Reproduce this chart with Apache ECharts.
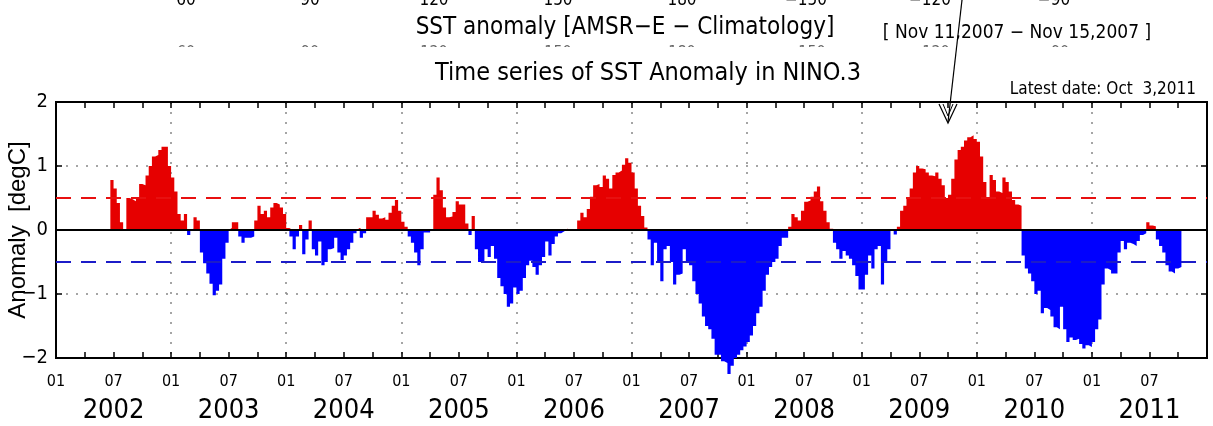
<!DOCTYPE html>
<html><head><meta charset="utf-8">
<script src="https://cdn.jsdelivr.net/npm/echarts@6/dist/echarts.min.js"></script>
<style>html,body{margin:0;padding:0;background:#fff}#c{width:1213px;height:426px}</style>
</head><body><div id="c"></div>
<script>
// ---- data (10-day / dekad values, 36 per year, null = no data) ----
const years = [2002, 2003, 2004, 2005, 2006, 2007, 2008, 2009, 2010, 2011];
const a2002 = [null,null,null,null,null,null,null,null,null,null,null,null,null,null,null,null,null,
  0.78, 0.65, 0.42, 0.12, 0, 0.5, 0.48, 0.45, 0.5, 0.72, 0.7, 0.85, 1.0, 1.15, 1.17, 1.25, 1.3, 1.3, 1.0];
const a2003 = [0.82, 0.6, 0.25, 0.15, 0.25, -0.08, 0.02, 0.2, 0.15, -0.35, -0.52, -0.68, -0.84, -1.02, -0.95, -0.85, -0.45, -0.2,
  0.03, 0.12, 0.12, -0.1, -0.2, -0.12, -0.12, -0.1, 0.15, 0.38, 0.25, 0.3, 0.2, 0.35, 0.42, 0.4, 0.35, 0.25];
const a2004 = [0.03, -0.1, -0.3, -0.1, 0.08, -0.38, -0.15, 0.15, -0.3, -0.4, -0.18, -0.55, -0.5, -0.3, -0.28, -0.12, -0.35, -0.47,
  -0.4, -0.3, -0.2, -0.05, 0.03, -0.12, -0.05, 0.2, 0.2, 0.3, 0.24, 0.18, 0.2, 0.16, 0.27, 0.38, 0.47, 0.3];
const a2005 = [0.13, 0.05, -0.1, -0.2, -0.35, -0.55, -0.3, -0.04, -0.04, 0.0, 0.55, 0.82, 0.62, 0.35, 0.2, 0.21, 0.28, 0.45,
  0.4, 0.4, 0.1, -0.08, 0.22, -0.3, -0.5, -0.48, -0.3, -0.42, -0.25, -0.45, -0.75, -0.88, -1.0, -1.2, -1.15, -0.9];
const a2006 = [-1.0, -0.95, -0.75, -0.55, -0.48, -0.58, -0.7, -0.55, -0.42, -0.18, -0.4, -0.22, -0.1, -0.05, -0.02, 0.02, 0, 0,
  0, 0.15, 0.27, 0.2, 0.33, 0.52, 0.7, 0.72, 0.67, 0.85, 0.8, 0.65, 0.86, 0.9, 0.93, 1.02, 1.12, 1.05];
const a2007 = [0.9, 0.65, 0.38, 0.22, 0.04, -0.15, -0.55, -0.2, -0.5, -0.8, -0.3, -0.25, -0.5, -0.85, -0.7, -0.68, -0.3, -0.5,
  -0.55, -0.8, -1.0, -1.15, -1.35, -1.5, -1.55, -1.7, -1.95, -1.95, -2.05, -2.08, -2.25, -2.12, -2.0, -1.95, -1.88, -1.82];
const a2008 = [-1.75, -1.65, -1.5, -1.3, -1.2, -0.95, -0.7, -0.58, -0.5, -0.45, -0.25, -0.12, -0.12, 0.05, 0.25, 0.2, 0.15, 0.3,
  0.44, 0.46, 0.52, 0.6, 0.68, 0.45, 0.3, 0.12, 0.02, -0.2, -0.3, -0.45, -0.33, -0.4, -0.45, -0.55, -0.72, -0.93];
const a2009 = [-0.93, -0.7, -0.4, -0.6, -0.3, -0.25, -0.85, -0.5, -0.3, 0.0, -0.07, 0.05, 0.3, 0.38, 0.5, 0.65, 0.9, 1.0,
  0.96, 0.95, 0.9, 0.85, 0.84, 0.9, 0.8, 0.7, 0.5, 0.55, 0.8, 1.1, 1.25, 1.3, 1.4, 1.45, 1.48, 1.42];
const a2010 = [1.38, 1.15, 0.75, 0.5, 0.86, 0.78, 0.6, 0.58, 0.82, 0.75, 0.6, 0.47, 0.4, 0.38, -0.4, -0.6, -0.68, -0.8,
  -1.0, -0.95, -1.3, -1.22, -1.25, -1.35, -1.52, -1.55, -1.2, -1.55, -1.75, -1.68, -1.72, -1.7, -1.78, -1.85, -1.8, -1.83];
const a2011 = [-1.75, -1.55, -1.4, -0.85, -0.6, -0.63, -0.68, -0.68, -0.35, -0.17, -0.3, -0.2, -0.22, -0.25, -0.17, -0.08, -0.05, 0.12,
  0.07, 0.06, -0.15, -0.25, -0.35, -0.55, -0.65, -0.68, -0.6, -0.58, null, null, null, null, null, null, null, null];
const yearValues = [a2002, a2003, a2004, a2005, a2006, a2007, a2008, a2009, a2010, a2011];

const monthLabels = ['01', '07'];
const yearLabels = ['2002', '2003', '2004', '2005', '2006', '2007', '2008', '2009', '2010', '2011'];
const yTickValues = [-2, -1, 0, 1, 2];
const lonLabels = ['60', '90', '120', '150', '180', '\u2212150', '\u2212120', '\u221290'];
const titleText = 'Time series of SST Anomaly in NINO.3';
const subText = 'SST anomaly [AMSR\u2212E \u2212 Climatology]';
const periodText = '[ Nov 11,2007 \u2212 Nov 15,2007 ]';
const latestText = 'Latest date: Oct  3,2011';
const yName = 'Anomaly  [degC]';

// ---- build series ----
const pos = [], neg = [];
let lastT = null, lastV = null;
years.forEach((y, yi) => {
  yearValues[yi].forEach((v, k) => {
    if (v === null) return;
    const t = y + k / 36;
    pos.push([t, v > 0 ? v : 0]);
    neg.push([t, v < 0 ? v : 0]);
    lastT = t; lastV = v;
  });
});
pos.push([lastT + 1 / 36, lastV > 0 ? lastV : 0]);
neg.push([lastT + 1 / 36, lastV < 0 ? lastV : 0]);

const quarterTicks = [];
const halfLabels = [];
const yearMid = [];
for (let i = 0; i <= years.length; i++) {
  const y = years[0] + i;
  quarterTicks.push(y);
  if (i < years.length) {
    quarterTicks.push(y + 0.25, y + 0.5, y + 0.75);
    halfLabels.push(y, y + 0.5);
    yearMid.push(y + 0.5);
  }
}

const NARROW = "'Liberation Sans Narrow','DejaVu Sans Condensed','Liberation Sans',sans-serif";
const X0 = years[0], X1 = years[0] + years.length;

const chart = echarts.init(document.getElementById('c'), null, {renderer: 'canvas'});
chart.setOption({
  animation: false,
  backgroundColor: '#fff',
  grid: {left: 56, right: 6, top: 102, bottom: 68, show: true, borderColor: '#000', borderWidth: 2,
    backgroundColor: 'transparent', containLabel: false, outerBoundsMode: 'none'},
  xAxis: [
    {type: 'value', position: 'bottom', min: X0, max: X1,
      axisLine: {show: true, onZero: false, lineStyle: {color: '#000', width: 2}},
      axisTick: {show: true, inside: true, length: 6, customValues: quarterTicks, lineStyle: {color: '#000', width: 1.5}},
      axisLabel: {show: true, customValues: halfLabels, margin: 16, color: '#000', fontFamily: NARROW, fontSize: 16,
        formatter: v => (Math.abs(v - Math.round(v)) < 1e-6 ? monthLabels[0] : monthLabels[1])},
      splitLine: {show: false}},
    {type: 'value', position: 'bottom', min: X0, max: X1,
      axisLine: {show: false, onZero: false}, axisTick: {show: false}, splitLine: {show: false},
      axisLabel: {show: true, customValues: yearMid, margin: 39, color: '#000', fontFamily: NARROW, fontSize: 27,
        formatter: v => yearLabels[Math.floor(v) - years[0]]}},
    {type: 'value', position: 'top', min: X0, max: X1,
      axisLine: {show: true, onZero: false, lineStyle: {color: '#000', width: 2}},
      axisTick: {show: true, inside: true, length: 6, customValues: quarterTicks, lineStyle: {color: '#000', width: 1.5}},
      axisLabel: {show: false}, splitLine: {show: false}},
    {type: 'value', position: 'bottom', min: X0, max: X1, interval: 1,
      axisLine: {show: false, onZero: false}, axisTick: {show: false}, axisLabel: {show: false},
      splitLine: {show: true, lineStyle: {color: '#888', width: 1.5, type: [2, 8]}}}
  ],
  yAxis: [
    {type: 'value', position: 'left', min: -2, max: 2, interval: 1,
      name: yName, nameLocation: 'middle', nameGap: 38, nameRotate: 90, nameMoveOverlap: false,
      nameTextStyle: {color: '#000', fontSize: 24, fontFamily: "'Liberation Sans','Noto Sans',sans-serif", verticalAlign: 'middle'},
      axisLine: {show: true, onZero: false, lineStyle: {color: '#000', width: 2}},
      axisTick: {show: true, inside: true, length: 6, customValues: yTickValues, lineStyle: {color: '#000', width: 1.5}},
      axisLabel: {show: true, customValues: yTickValues, margin: 8, color: '#000', fontFamily: NARROW, fontSize: 20,
        formatter: v => String(v).replace('-', '\u2212')},
      splitLine: {show: true, lineStyle: {color: '#888', width: 1.5, type: [2, 8]}}},
    {type: 'value', position: 'right', min: -2, max: 2, interval: 1,
      axisLine: {show: true, onZero: false, lineStyle: {color: '#000', width: 2}},
      axisTick: {show: true, inside: true, length: 6, customValues: yTickValues, lineStyle: {color: '#000', width: 1.5}},
      axisLabel: {show: false}, splitLine: {show: false}}
  ],
  series: [
    {type: 'line', name: 'positive', data: pos, step: 'end', symbol: 'none', showSymbol: false,
      lineStyle: {width: 0, opacity: 0}, areaStyle: {color: '#e60000', opacity: 1, origin: 0}, z: 2},
    {type: 'line', name: 'negative', data: neg, step: 'end', symbol: 'none', showSymbol: false, clip: false,
      lineStyle: {width: 0, opacity: 0}, areaStyle: {color: '#0000ff', opacity: 1, origin: 0}, z: 2},
    {type: 'line', name: 'refs', data: [], z: 4,
      markLine: {silent: true, symbol: 'none', label: {show: false}, animation: false,
        data: [
          {yAxis: 0, lineStyle: {color: '#000', width: 2, type: 'solid'}},
          {yAxis: 0.5, lineStyle: {color: '#e81010', width: 2, type: [15, 10]}},
          {yAxis: -0.5, lineStyle: {color: '#1c1cc8', width: 2, type: [15, 10]}}
        ]}}
  ],
  graphic: [
    ...lonLabels.map((s, i) => ({type: 'text', x: 186 + i * 124, y: 1,
      style: {text: s, font: '17px ' + NARROW, fill: '#000', align: 'center', verticalAlign: 'middle'}})),
    ...lonLabels.map((s, i) => ({type: 'text', x: 186 + i * 124, y: 53, z: 1,
      style: {text: s, font: '16px ' + NARROW, fill: '#666', align: 'center', verticalAlign: 'middle'}})),
    {type: 'rect', shape: {x: 0, y: 47, width: 1213, height: 14}, style: {fill: '#fff'}, z: 2},
    {type: 'text', x: 625, y: 28, z: 3, style: {text: subText, font: '24px ' + NARROW, fill: '#000', align: 'center', verticalAlign: 'middle'}},
    {type: 'text', x: 1017, y: 33, z: 3, style: {text: periodText, font: '19px ' + NARROW, fill: '#000', align: 'center', verticalAlign: 'middle'}},
    {type: 'text', x: 648, y: 73, z: 3, style: {text: titleText, font: '25px ' + NARROW, fill: '#000', align: 'center', verticalAlign: 'middle'}},
    {type: 'text', x: 1196, y: 90, z: 3, style: {text: latestText, font: '17px ' + NARROW, fill: '#000', align: 'right', verticalAlign: 'middle'}},
    {type: 'line', z: 5, shape: {x1: 962, y1: 0, x2: 948, y2: 122}, style: {stroke: '#000', lineWidth: 1.2}},
    {type: 'polyline', z: 5, shape: {points: [[939, 104], [948, 123], [957, 104]]}, style: {stroke: '#000', lineWidth: 1.2, fill: null}},
    {type: 'polyline', z: 5, shape: {points: [[943, 104], [948, 116], [953, 104]]}, style: {stroke: '#000', lineWidth: 1, fill: null}}
  ]
});
</script>
</body></html>
